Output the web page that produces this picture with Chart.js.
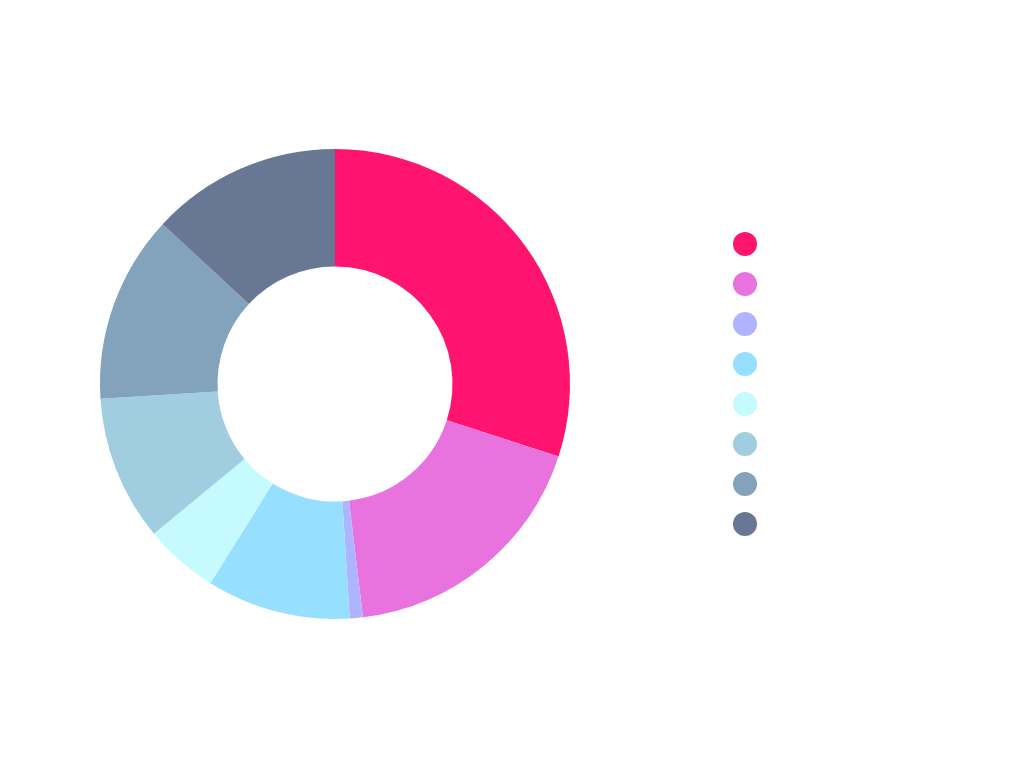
<!DOCTYPE html>
<html>
<head>
<meta charset="utf-8">
<script src="https://cdn.jsdelivr.net/npm/chart.js@4/dist/chart.umd.min.js"></script>
<style>
  html, body { margin: 0; padding: 0; background: #ffffff; }
  #wrap { width: 1024px; height: 768px; }
</style>
</head>
<body>
<div id="wrap"><canvas id="chart" width="1024" height="768"></canvas></div>
<script>
// categories (the legend in the reference shows no text)
const categories = ['A', 'B', 'C', 'D', 'E', 'F', 'G', 'H'];
// share of each slice, in percent
const values = [30.0, 18.1, 0.9, 9.9, 5.1, 10.0, 12.9, 13.1];
const colors = ['#ff1470', '#e873df', '#aeb4ff', '#96dfff', '#c5faff', '#a0cee0', '#83a3bd', '#687894'];

// widen the legend box so there is a gap between the ring and the dots
const legendGap = {
    id: 'legendGap',
    beforeLayout(chart) {
        const legend = chart.legend;
        if (legend && !legend._gapPatched) {
            const fit = legend.fit;
            legend.fit = function () {
                fit.call(this);
                this.width += 48;
            };
            legend._gapPatched = true;
        }
    }
};

const ctx = document.getElementById('chart').getContext('2d');
new Chart(ctx, {
    type: 'doughnut',
    data: {
        labels: categories,
        datasets: [{
            data: values,
            backgroundColor: colors,
            borderWidth: 0
        }]
    },
    options: {
        responsive: false,
        animation: false,
        cutout: '50%',
        layout: {
            padding: { left: 0, right: 247.5, top: 149, bottom: 149 }
        },
        plugins: {
            tooltip: { enabled: false },
            legend: {
                position: 'right',
                rtl: true,
                labels: {
                    usePointStyle: true,
                    pointStyle: 'circle',
                    boxWidth: 17,
                    boxHeight: 17,
                    padding: 23,
                    font: { size: 17 },
                    generateLabels: function (chart) {
                        const base = Chart.overrides.doughnut.plugins.legend.labels.generateLabels(chart);
                        return base.map(item => Object.assign(item, { text: '' }));
                    }
                }
            }
        }
    },
    plugins: [legendGap]
});
</script>
</body>
</html>
